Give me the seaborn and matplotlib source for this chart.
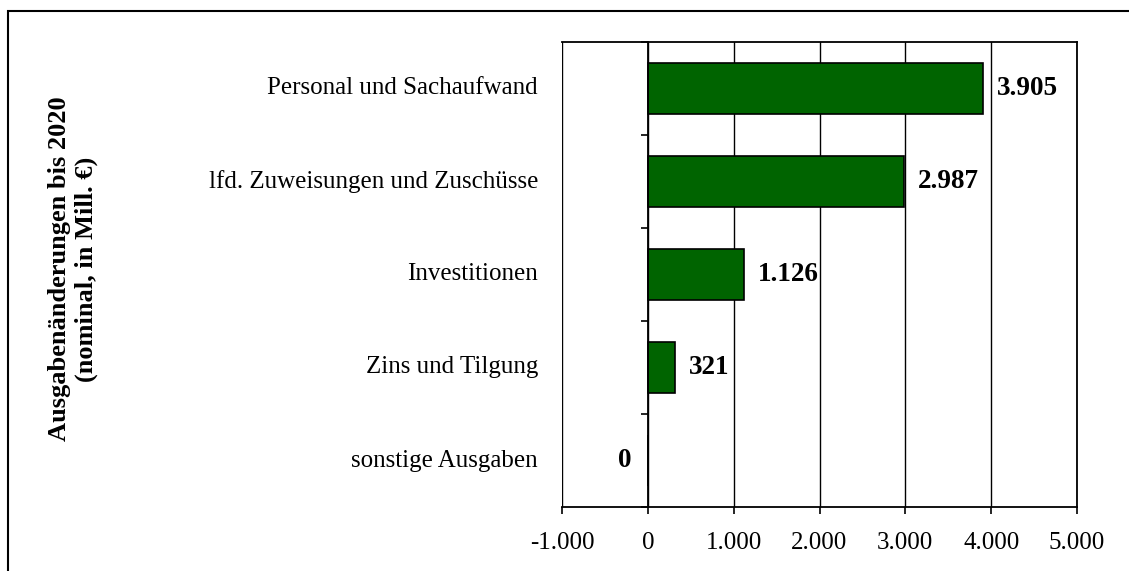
import matplotlib
matplotlib.use("Agg")
import matplotlib.pyplot as plt
import matplotlib.transforms as mtransforms
from matplotlib.patches import Rectangle
import seaborn as sns

# ── Data ──────────────────────────────────────────────────────────────────────
categories = [
    "Personal und Sachaufwand",
    "lfd. Zuweisungen und Zuschüsse",
    "Investitionen",
    "Zins und Tilgung",
    "sonstige Ausgaben",
]
values = [3905, 2987, 1126, 321, 0]
xticks = [-1000, 0, 1000, 2000, 3000, 4000, 5000]
ylabel = "Ausgabenänderungen bis 2020\n(nominal, in Mill. €)"


def de_fmt(v):
    return f"{v:,}".replace(",", ".")


# ── Style ─────────────────────────────────────────────────────────────────────
sns.set_theme(style="white")
plt.rcParams["font.family"] = ["Liberation Serif", "DejaVu Serif"]
plt.rcParams["font.size"] = 18
plt.rcParams["text.color"] = "black"
plt.rcParams["xtick.color"] = "black"
plt.rcParams["ytick.color"] = "black"
plt.rcParams["axes.labelcolor"] = "black"

W, H = 1129, 571
fig = plt.figure(figsize=(W / 100, H / 100), dpi=100)
fig.patch.set_facecolor("white")

# plot area in pixel coords: x 562..1077, y 42..507
ax = fig.add_axes([562 / W, 1 - 507 / H, (1077 - 562) / W, (507 - 42) / H])

sns.barplot(
    x=values, y=categories, orient="h", color="#006400", saturation=1,
    edgecolor="black", linewidth=1.2, width=0.54, ax=ax,
)

ax.set_xlim(-1000, 5000)
ax.set_ylim(4.5, -0.5)
ax.set_xlabel("")
ax.set_ylabel("")

# x axis
ax.set_xticks(xticks)
ax.set_xticklabels([de_fmt(t) for t in xticks], fontsize=18, color="black")
ax.tick_params(axis="x", direction="out", length=5, width=1.2,
               color="black", pad=13, bottom=True)
ax.grid(axis="x", color="black", linewidth=1.0)
ax.set_axisbelow(True)

# category axis sits at x = 0, ticks between categories
ax.spines["left"].set_position(("data", 0))
ax.set_yticks([])
ax.set_yticks([i - 0.5 for i in range(len(categories) + 1)], minor=True)
ax.tick_params(axis="y", which="minor", direction="out", length=5,
               width=1.2, color="black", left=True)
for s in ax.spines.values():
    s.set_color("black")
    s.set_linewidth(1.3)

# category labels outside the plot area
trans = mtransforms.blended_transform_factory(fig.transFigure, ax.transData)
for i, cat in enumerate(categories):
    ax.text(538 / W, i, cat, transform=trans, ha="right", va="center",
            fontsize=18, color="black")

# value labels
for i, v in enumerate(values):
    if v > 0:
        ax.annotate(de_fmt(v), (v, i), xytext=(10, 0),
                    textcoords="offset points", ha="left", va="center",
                    fontsize=19.5, fontweight="bold", color="black")
    else:
        ax.annotate(de_fmt(v), (v, i), xytext=(-16.5, 0),
                    textcoords="offset points", ha="center", va="center",
                    fontsize=19.5, fontweight="bold", color="black")

# y axis title
fig.text(73 / W, 1 - 269 / H, ylabel, rotation=90, ha="center",
         va="center", multialignment="center", fontsize=19,
         fontweight="bold", linespacing=1.15, color="black")

# outer chart border (runs off the right and bottom edge)
fig.patches.append(Rectangle((7.5 / W, -0.05), 1.2, 1 - 11 / H + 0.05,
                             transform=fig.transFigure, fill=False,
                             edgecolor="black", linewidth=1.5))

fig.savefig("out.png", dpi=100)
plt.close(fig)
